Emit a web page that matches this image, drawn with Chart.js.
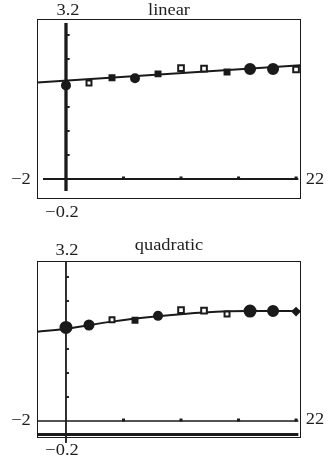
<!DOCTYPE html>
<html>
<head>
<meta charset="utf-8">
<script src="https://cdn.jsdelivr.net/npm/chart.js@4/dist/chart.umd.min.js"></script>
<style>
  body { margin: 0; background: #fff; }
  #wrap { position: relative; width: 329px; height: 461px; overflow: hidden; }
  canvas { position: absolute; left: 0; }
  .lbl { position: absolute; font-family: "Liberation Serif", "DejaVu Serif", serif; font-size: 16px;
         color: #1e1e1e; line-height: 1; white-space: nowrap; transform: translate(-50%, -50%) scaleX(1.15); }
</style>
</head>
<body>
<div id="wrap">
  <canvas id="linChart" width="329" height="230" style="top:0"></canvas>
  <canvas id="quadChart" width="329" height="231" style="top:230px"></canvas>

  <div class="lbl" style="left:68px;top:10px">3.2</div>
  <div class="lbl" style="left:169px;top:10px">linear</div>
  <div class="lbl" style="left:21px;top:179px">−2</div>
  <div class="lbl" style="left:315px;top:179px">22</div>
  <div class="lbl" style="left:62px;top:212px">−0.2</div>

  <div class="lbl" style="left:67px;top:250px">3.2</div>
  <div class="lbl" style="left:169px;top:245px">quadratic</div>
  <div class="lbl" style="left:21px;top:420px">−2</div>
  <div class="lbl" style="left:315px;top:419px">22</div>
  <div class="lbl" style="left:62px;top:450px">−0.2</div>
</div>
<script>
// data
let xValues = [0, 2, 4, 6, 8, 10, 12, 14, 16, 18, 20];
let yValues = [1.95, 2.0, 2.11, 2.1, 2.19, 2.31, 2.3, 2.23, 2.29, 2.29, 2.28];

// fitted line (linear) and curve (quadratic), as seen on the screen
let linX = [-2.5, 20.4];
let linY = [2.01, 2.37];
let quadX = [-2.5, 0, 4, 8, 12, 16, 20.4];
let quadY = [1.86, 1.92, 2.07, 2.18, 2.26, 2.29, 2.29];

let xTicks = [5, 10, 15, 20];
let yTicks = [0.5, 1, 1.5, 2, 2.5, 3];

// marker looks, one per point
let linStyles = ['circle', 'rect', 'rect', 'circle', 'rect', 'rect', 'rect', 'rect', 'circle', 'circle', 'rect'];
let linOpen   = [false, true, false, false, false, true, true, false, false, false, true];
let linSizes  = [4, 3.5, 3.5, 4, 3.5, 4, 4, 3.5, 5, 5, 4];
let quadStyles = ['circle', 'circle', 'rect', 'rect', 'circle', 'rect', 'rect', 'rect', 'circle', 'circle', 'rectRot'];
let quadOpen   = [false, false, true, false, false, true, true, true, false, false, false];
let quadSizes  = [5.5, 4.5, 3.5, 3.5, 4, 4, 4, 3.5, 5.5, 5, 3.5];

const ink = '#1a1a1a';

function pts(xs, ys) {
  let out = [];
  for (let i = 0; i < xs.length; i++) out.push({ x: xs[i], y: ys[i] });
  return out;
}

// calculator style frame, axes and tick dots
const calcAxes = {
  id: 'calcAxes',
  beforeDatasetsDraw(chart, args, o) {
    const ctx = chart.ctx, sx = chart.scales.x, sy = chart.scales.y, a = chart.chartArea;
    const x0 = sx.getPixelForValue(0), y0 = sy.getPixelForValue(0);
    ctx.save();
    ctx.strokeStyle = ink;
    ctx.fillStyle = ink;
    ctx.lineWidth = 1;
    ctx.strokeRect(a.left + 0.5, a.top + 0.5, a.right - a.left - 1, a.bottom - a.top - 1);

    ctx.lineWidth = o.xAxisWidth;
    ctx.beginPath();
    ctx.moveTo(sx.getPixelForValue(o.xFrom), y0);
    ctx.lineTo(sx.getPixelForValue(o.xTo), y0);
    ctx.stroke();

    ctx.lineWidth = o.yAxisWidth;
    ctx.beginPath();
    ctx.moveTo(x0, sy.getPixelForValue(o.yFrom));
    ctx.lineTo(x0, sy.getPixelForValue(o.yTo));
    ctx.stroke();

    if (o.barAt !== undefined) {
      ctx.lineWidth = 3;
      ctx.beginPath();
      ctx.moveTo(a.left + 1, sy.getPixelForValue(o.barAt));
      ctx.lineTo(sx.getPixelForValue(o.xTo), sy.getPixelForValue(o.barAt));
      ctx.stroke();
    }

    xTicks.forEach(v => {
      ctx.fillRect(sx.getPixelForValue(v) - 1.5, y0 - 2.5, 3, 3);
    });
    yTicks.forEach(v => {
      ctx.fillRect(x0 + o.yAxisWidth / 2 - 0.5, sy.getPixelForValue(v) - 1, 2.5, 2);
    });
    ctx.restore();
  }
};

function makeChart(id, curveX, curveY, styles, open, sizes, yMin, pad, axisOpts, lineW, smooth) {
  let ctx = document.getElementById(id).getContext('2d');
  return new Chart(ctx, {
    type: 'scatter',
    data: {
      datasets: [{
        data: pts(xValues, yValues),
        pointStyle: styles,
        pointRadius: sizes,
        backgroundColor: open.map(o => o ? '#fff' : ink),
        borderColor: ink,
        borderWidth: 2,
        order: 0
      }, {
        data: pts(curveX, curveY),
        showLine: true,
        pointRadius: 0,
        borderColor: ink,
        borderWidth: lineW,
        cubicInterpolationMode: smooth ? 'monotone' : 'default',
        order: 1
      }]
    },
    options: {
      responsive: false,
      animation: false,
      layout: { padding: pad },
      scales: {
        x: { type: 'linear', display: false, min: -2.52, max: 20.43 },
        y: { type: 'linear', display: false, min: yMin, max: 3.333 }
      },
      plugins: {
        legend: { display: false },
        tooltip: { enabled: false },
        calcAxes: axisOpts
      }
    },
    plugins: [calcAxes]
  });
}

makeChart('linChart', linX, linY, linStyles, linOpen, linSizes, -0.417,
  { left: 37, right: 28, top: 19, bottom: 31 },
  { xAxisWidth: 2, yAxisWidth: 3.3, xFrom: -2, xTo: 20.2, yFrom: 3.25, yTo: -0.25 }, 2.2, false);

makeChart('quadChart', quadX, quadY, quadStyles, quadOpen, quadSizes, -0.354,
  { left: 37, right: 28, top: 31, bottom: 23 },
  { xAxisWidth: 1.5, yAxisWidth: 1.8, xFrom: -2.52, xTo: 20.2, yFrom: 3.333, yTo: -0.46, barAt: -0.28 }, 2, true);
</script>
</body>
</html>
